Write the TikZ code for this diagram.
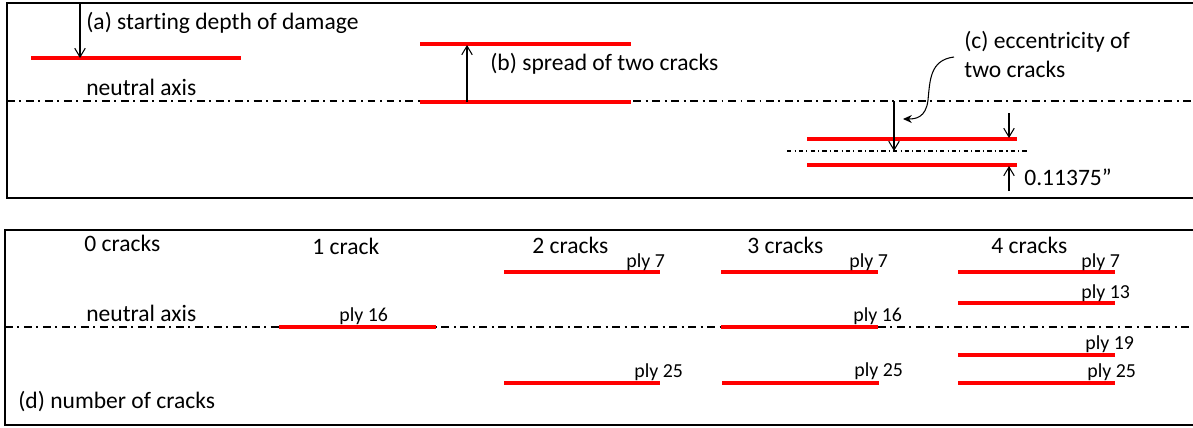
\documentclass[tikz,border=0pt]{standalone}
\usepackage{fontspec}
\setmainfont{Carlito}[Ligatures=CommonOff]
\usepackage{tikz}
\usetikzlibrary{arrows.meta, positioning}

\begin{document}
\begin{tikzpicture}[
    x=0.02cm, y=-0.02cm,
    panel/.style={draw, line width=1.1pt},
    crack/.style={draw=red, line width=2pt},
    axis/.style={line width=1.1pt, dash pattern=on 4.5pt off 2.6pt on 1.1pt off 2.6pt},
    subaxis/.style={line width=0.6pt, dash pattern=on 2.5pt off 1.8pt on 0.6pt off 1.8pt},
    dim/.style={-{Straight Barb[length=5pt, width=6pt]}, line width=0.6pt},
    pointer/.style={-{Stealth[length=5pt, width=4.5pt]}, line width=0.6pt},
    lbl/.style={inner sep=0pt, anchor=base west, font=\fontsize{13.4}{16}\selectfont},
    ply/.style={inner sep=0pt, anchor=base west, font=\fontsize{11.3}{13}\selectfont}
]
\useasboundingbox (0,0) rectangle (1193,427);

% Top panel
\draw[panel] (1193,3) -- (7,3) -- (7,198) -- (1193,198);
\draw[axis] (7,101) -- (1193,101);
\draw[subaxis] (787,151) -- (1028,151);

% Cracks
\draw[crack] (31,58) -- (241,58);
\draw[crack] (420,44) -- (631,44);
\draw[crack] (420,102) -- (631,102);
\draw[crack] (807,139) -- (1017,139);
\draw[crack] (807,165) -- (1017,165);

% Labels
\node[lbl] (txt-a) at (86,29) {(a) starting depth of damage};
\node[lbl] (na-top) at (86,95) {neutral axis};
\node[lbl] (txt-b) at (490,70) {(b) spread of two cracks};
\node[lbl] (txt-c1) at (964,48) {(c) eccentricity of};
\node[lbl] (txt-c2) at (964,77) {two cracks};
\node[lbl] (gap) at (1024,185) {0.11375”};

% Dimension points
\coordinate (a-from) at (80,3);
\coordinate (a-to) at (80,58);
\coordinate (b-from) at (467,102);
\coordinate (b-to) at (467,45);
\coordinate (c-from) at (894,101);
\coordinate (c-to) at (894,151);
\coordinate (d-from) at (1009,113);
\coordinate (d-to) at (1009,138);
\coordinate (e-from) at (1009,191);
\coordinate (e-to) at (1009,166);
\coordinate (hook) at (954,57);
\coordinate (hook-end) at (903,119);

% Connections
\draw[dim] (a-from) -- (a-to);
\draw[dim] (b-from) -- (b-to);
\draw[dim] (c-from) -- (c-to);
\draw[dim] (d-from) -- (d-to);
\draw[dim] (e-from) -- (e-to);
\draw[pointer] (hook) .. controls (930,60) and (930,80) .. (928,100)
    .. controls (926,118) and (915,119) .. (hook-end);

% Bottom panel
\draw[panel] (1193,230) -- (5,230) -- (5,425) -- (1193,425);
\draw[axis] (5,327) -- (1193,327);

\node[lbl] (n0) at (84,251) {0 cracks};
\node[lbl] (n1) at (312,254) {1 crack};
\node[lbl] (n2) at (532,253) {2 cracks};
\node[lbl] (n3) at (747,253) {3 cracks};
\node[lbl] (n4) at (991,253) {4 cracks};
\node[lbl] (na-bot) at (86,321) {neutral axis};
\node[lbl] (txt-d) at (18,408) {(d) number of cracks};

% 1 crack
\draw[crack] (279,327) -- (436,327);
\node[ply] (p1-16) at (339,321) {ply 16};

% 2 cracks
\draw[crack] (504,272) -- (660,272);
\draw[crack] (504,383) -- (660,383);
\node[ply] (p2-7) at (626,267) {ply 7};
\node[ply] (p2-25) at (634,377) {ply 25};

% 3 cracks
\draw[crack] (721,272) -- (878,272);
\draw[crack] (721,327) -- (878,327);
\draw[crack] (722,383) -- (879,383);
\node[ply] (p3-7) at (849,267) {ply 7};
\node[ply] (p3-16) at (853,321) {ply 16};
\node[ply] (p3-25) at (854,376) {ply 25};

% 4 cracks
\draw[crack] (958,272) -- (1115,272);
\draw[crack] (958,303) -- (1115,303);
\draw[crack] (958,355) -- (1115,355);
\draw[crack] (958,383) -- (1115,383);
\node[ply] (p4-7) at (1081,267) {ply 7};
\node[ply] (p4-13) at (1081,298) {ply 13};
\node[ply] (p4-19) at (1085,349) {ply 19};
\node[ply] (p4-25) at (1087,377) {ply 25};

\end{tikzpicture}
\end{document}
